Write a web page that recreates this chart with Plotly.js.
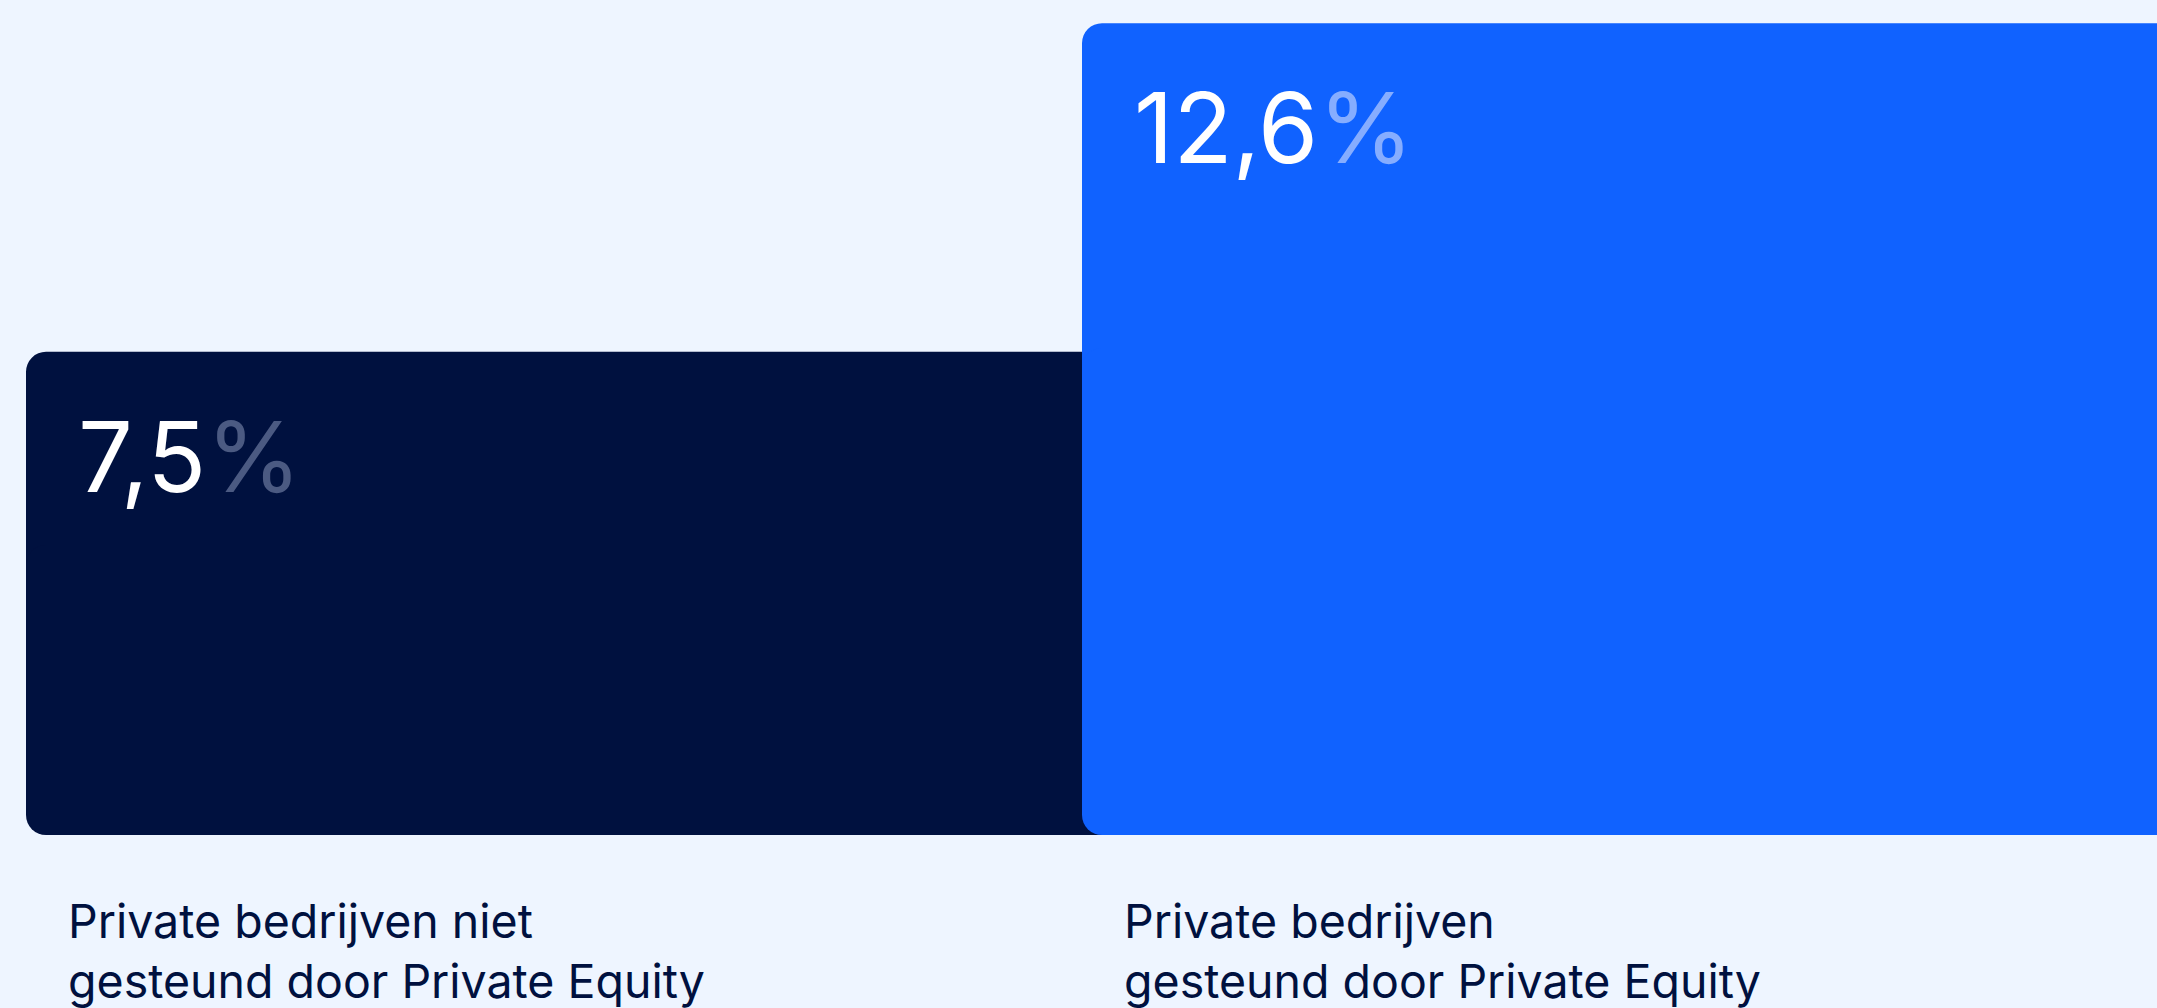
<!DOCTYPE html>
<html>
<head>
<meta charset="utf-8">
<script src="https://cdn.plot.ly/plotly-3.0.1.min.js"></script>
<style>
  html, body { margin: 0; padding: 0; background: #EEF5FF; }
  #chart { width: 2157px; height: 1008px; }
</style>
</head>
<body>
<div id="chart"></div>
<script>
// ---- data ----
const categories = ["Private bedrijven niet gesteund door Private Equity", "Private bedrijven gesteund door Private Equity"];
const labelLines = [
  ["Private bedrijven niet", "gesteund door Private Equity"],
  ["Private bedrijven", "gesteund door Private Equity"]
];
const values = [7.5, 12.6];
const barColors = ["#00113F", "#1062FF"];
const percentColors = ["#4B5A82", "#86ADFF"];

// ---- layout constants ----
const W = 1.06;          // bar width in category units (bars overlap)
const xIdx = categories.map((_, i) => i);

// each bar = two overlapping pieces so all four corners are rounded
const topPiece = {
  type: "bar",
  x: xIdx,
  base: values.map(v => v * 0.4),
  y: values.map(v => v * 0.6),
  width: W,
  marker: { color: barColors, cornerradius: 20, line: { width: 0 } },
  hoverinfo: "skip",
  showlegend: false
};
const bottomPiece = {
  type: "bar",
  x: xIdx,
  base: values.map(v => v * 0.6),
  y: values.map(v => -v * 0.6),
  width: W,
  marker: { color: barColors, cornerradius: 20, line: { width: 0 } },
  hoverinfo: "skip",
  showlegend: false
};

const fmt = v => v.toFixed(1).replace(".", ",");

const annotations = [];
values.forEach((v, i) => {
  annotations.push({
    x: i - W / 2, xref: "x", xanchor: "left", xshift: 50,
    y: v, yref: "y", yanchor: "top", yshift: -44,
    text: fmt(v) + '<span style="color:' + percentColors[i] + '">%</span>',
    showarrow: false,
    align: "left",
    font: { family: "Inter, 'Noto Sans', sans-serif", size: 97, color: "#FFFFFF" }
  });
  annotations.push({
    x: i - W / 2, xref: "x", xanchor: "left", xshift: 40,
    y: 0, yref: "y", yanchor: "top", yshift: -56,
    text: labelLines[i].join("<br>"),
    showarrow: false,
    align: "left",
    font: { family: "Inter, 'Noto Sans', sans-serif", size: 46.5, color: "#00113F" }
  });
});

const layout = {
  width: 2157,
  height: 1008,
  margin: { l: 0, r: 0, t: 0, b: 173, pad: 0 },
  paper_bgcolor: "#EEF5FF",
  plot_bgcolor: "#EEF5FF",
  barmode: "overlay",
  showlegend: false,
  xaxis: {
    range: [-W / 2 - 26 / 1056, -W / 2 - 26 / 1056 + 2157 / 1056],
    visible: false, fixedrange: true
  },
  yaxis: { range: [0, 12.96], visible: false, fixedrange: true },
  annotations: annotations
};

Plotly.newPlot("chart", [topPiece, bottomPiece], layout, { staticPlot: true, displayModeBar: false });
</script>
</body>
</html>
